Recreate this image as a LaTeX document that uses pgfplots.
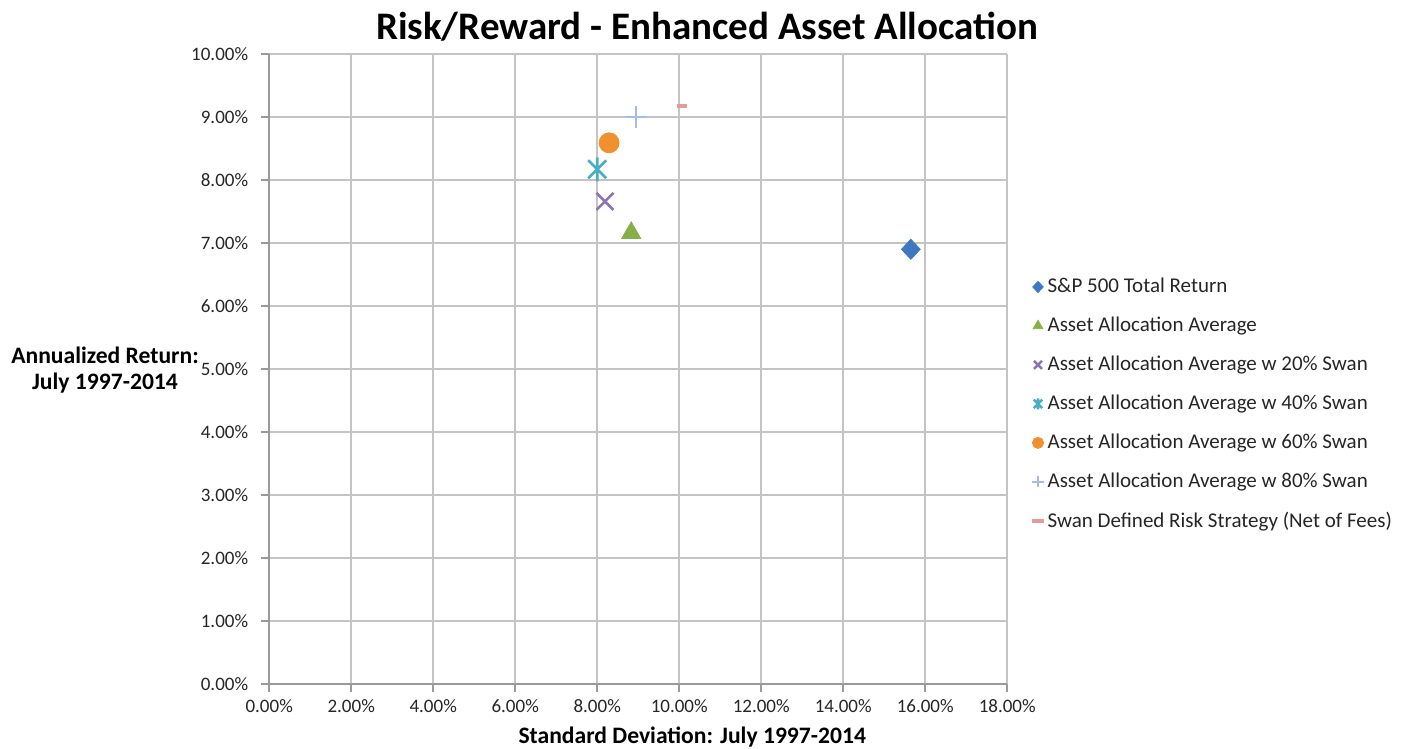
\documentclass[border=0pt]{standalone}
\usepackage{pgfplots}
\pgfplotsset{compat=1.18}
\usepackage{fontspec}
\setmainfont{Carlito}
\definecolor{gridc}{HTML}{C4C4C4}
\definecolor{axisc}{HTML}{9A9A9A}
\definecolor{cblue}{HTML}{3F78BF}
\definecolor{cgreen}{HTML}{86B046}
\definecolor{cpurple}{HTML}{8C74B4}
\definecolor{cteal}{HTML}{4BACC6}
\definecolor{corange}{HTML}{F0902E}
\definecolor{clight}{HTML}{A7BCDF}
\definecolor{cpink}{HTML}{E39C9C}
\pgfdeclareplotmark{xstar}{%
  \pgfpathmoveto{\pgfqpoint{-.75\pgfplotmarksize}{-.75\pgfplotmarksize}}%
  \pgfpathlineto{\pgfqpoint{.75\pgfplotmarksize}{.75\pgfplotmarksize}}%
  \pgfpathmoveto{\pgfqpoint{-.75\pgfplotmarksize}{.75\pgfplotmarksize}}%
  \pgfpathlineto{\pgfqpoint{.75\pgfplotmarksize}{-.75\pgfplotmarksize}}%
  \pgfpathmoveto{\pgfqpoint{0pt}{-\pgfplotmarksize}}%
  \pgfpathlineto{\pgfqpoint{0pt}{\pgfplotmarksize}}%
  \pgfusepathqstroke}
\begin{document}
\begin{tikzpicture}
\begin{axis}[
  at={(0pt,0pt)}, anchor=south west,
  scale only axis, width=369pt, height=315pt,
  xmin=0, xmax=18, ymin=0, ymax=10,
  xtick={0,2,...,18}, ytick={0,1,...,10},
  grid=major, major grid style={gridc, line width=0.8pt},
  axis x line*=bottom, axis y line*=left,
  axis line style={-, draw=axisc, line width=0.8pt},
  every outer x axis line/.append style={-},
  every outer y axis line/.append style={-},
  tick align=outside, major tick length=4pt,
  tick style={axisc, line width=0.8pt},
  tick label style={font=\fontsize{9.5}{11}\selectfont, text=black!85},
  yticklabel style={xshift=-3pt},
  /pgf/number format/assume math mode=true,
  xticklabel={\pgfmathprintnumber[fixed,fixed zerofill,precision=2]{\tick}\%},
  yticklabel={\pgfmathprintnumber[fixed,fixed zerofill,precision=2]{\tick}\%},
  clip=false,
  legend style={draw=none, fill=none, inner sep=0pt, at={(1.0336,0.444)}, anchor=west,
    font=\fontsize{10.5}{12.5}\selectfont, text=black!85, row sep=6.7pt},
  legend cell align=left,
  legend image post style={mark size=2.8pt},
]
\addplot[only marks, mark=diamond*, mark size=5pt, mark options={xscale=1.25}, color=cblue] coordinates {(15.65,6.90)};
\addlegendentry{S\&P 500 Total Return}
\addplot[only marks, mark=triangle*, mark size=5.5pt, color=cgreen] coordinates {(8.83,7.16)};
\addlegendentry{Asset Allocation Average}
\addplot[only marks, mark=x, mark size=6pt, line width=1.3pt, color=cpurple] coordinates {(8.19,7.66)};
\addlegendentry{Asset Allocation Average w 20\% Swan}
\addplot[only marks, mark=xstar, mark size=6pt, line width=1.3pt, color=cteal] coordinates {(8.00,8.17)};
\addlegendentry{Asset Allocation Average w 40\% Swan}
\addplot[only marks, mark=*, mark size=5pt, color=corange] coordinates {(8.29,8.59)};
\addlegendentry{Asset Allocation Average w 60\% Swan}
\addplot[only marks, mark=+, mark size=5.5pt, line width=1pt, color=clight] coordinates {(8.95,9.00)};
\addlegendentry{Asset Allocation Average w 80\% Swan}
\addplot[only marks, mark=-, mark size=2.5pt, line width=2pt, color=cpink] coordinates {(10.06,9.17)};
\addlegendentry{Swan Defined Risk Strategy (Net of Fees)}
\end{axis}
\node[font=\bfseries\fontsize{19.5}{22}\selectfont] at (218.9pt,328.5pt) {Risk/Reward - Enhanced Asset Allocation};
\node[font=\bfseries\fontsize{11.8}{13}\selectfont] at (211.5pt,-26.5pt) {Standard Deviation: July 1997-2014};
\node[font=\bfseries\fontsize{11.8}{13}\selectfont, align=center] at (-82.1pt,157pt) {Annualized Return:\\July 1997-2014};
\pgfresetboundingbox
\path (-134.6pt,-32.5pt) rectangle (566.4pt,342pt);
\end{tikzpicture}
\end{document}
